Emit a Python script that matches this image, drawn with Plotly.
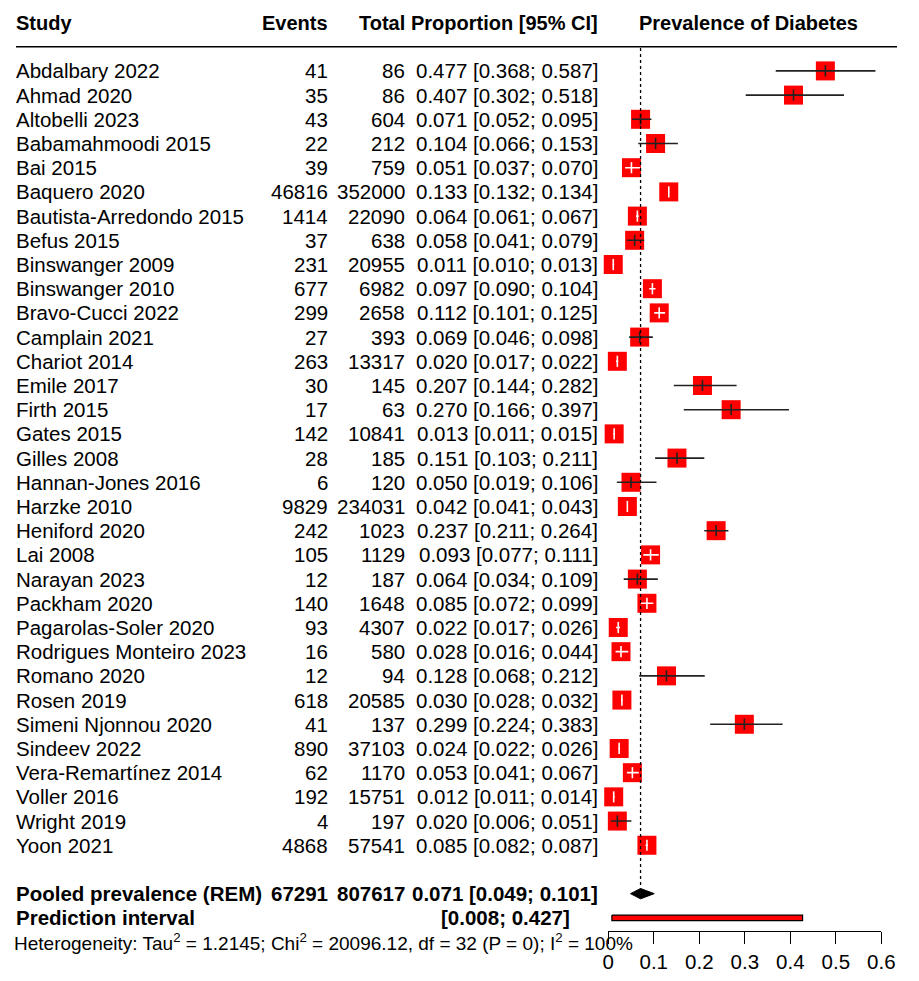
import plotly.graph_objects as go

studies = ["Abdalbary 2022", "Ahmad 2020", "Altobelli 2023", "Babamahmoodi 2015", "Bai 2015",
           "Baquero 2020", "Bautista-Arredondo 2015", "Befus 2015", "Binswanger 2009", "Binswanger 2010",
           "Bravo-Cucci 2022", "Camplain 2021", "Chariot 2014", "Emile 2017", "Firth 2015",
           "Gates 2015", "Gilles 2008", "Hannan-Jones 2016", "Harzke 2010", "Heniford 2020",
           "Lai 2008", "Narayan 2023", "Packham 2020", "Pagarolas-Soler 2020", "Rodrigues Monteiro 2023",
           "Romano 2020", "Rosen 2019", "Simeni Njonnou 2020", "Sindeev 2022", "Vera-Remartínez 2014",
           "Voller 2016", "Wright 2019", "Yoon 2021"]
events = [41, 35, 43, 22, 39, 46816, 1414, 37, 231, 677, 299, 27, 263, 30, 17, 142, 28, 6, 9829, 242,
          105, 12, 140, 93, 16, 12, 618, 41, 890, 62, 192, 4, 4868]
totals = [86, 86, 604, 212, 759, 352000, 22090, 638, 20955, 6982, 2658, 393, 13317, 145, 63, 10841, 185,
          120, 234031, 1023, 1129, 187, 1648, 4307, 580, 94, 20585, 137, 37103, 1170, 15751, 197, 57541]
prop = [0.477, 0.407, 0.071, 0.104, 0.051, 0.133, 0.064, 0.058, 0.011, 0.097, 0.112, 0.069, 0.020, 0.207,
        0.270, 0.013, 0.151, 0.050, 0.042, 0.237, 0.093, 0.064, 0.085, 0.022, 0.028, 0.128, 0.030, 0.299,
        0.024, 0.053, 0.012, 0.020, 0.085]
lower = [0.368, 0.302, 0.052, 0.066, 0.037, 0.132, 0.061, 0.041, 0.010, 0.090, 0.101, 0.046, 0.017, 0.144,
         0.166, 0.011, 0.103, 0.019, 0.041, 0.211, 0.077, 0.034, 0.072, 0.017, 0.016, 0.068, 0.028, 0.224,
         0.022, 0.041, 0.011, 0.006, 0.082]
upper = [0.587, 0.518, 0.095, 0.153, 0.070, 0.134, 0.067, 0.079, 0.013, 0.104, 0.125, 0.098, 0.022, 0.282,
         0.397, 0.015, 0.211, 0.106, 0.043, 0.264, 0.111, 0.109, 0.099, 0.026, 0.044, 0.212, 0.032, 0.383,
         0.026, 0.067, 0.014, 0.051, 0.087]

pooled_events = 67291
pooled_total = 807617
pooled_est, pooled_lo, pooled_hi = 0.071, 0.049, 0.101
pred_lo, pred_hi = 0.008, 0.427
het_text = ("Heterogeneity: Tau<sup>2</sup> = 1.2145; Chi<sup>2</sup> = 20096.12, df = 32 "
            "(P = 0); I<sup>2</sup> = 100%")
x_ticks = [0, 0.1, 0.2, 0.3, 0.4, 0.5, 0.6]
x_ticktext = ["0", "0.1", "0.2", "0.3", "0.4", "0.5", "0.6"]

# ---- layout geometry (target pixel coordinates in the 919x981 window) ----
VIEW_W, VIEW_H = 919, 981
OFF_X, OFF_Y = 8, 8           # default page margin around the plot div
W, H = VIEW_W - 2 * OFF_X, VIEW_H - 2 * OFF_Y
FONT = "Liberation Sans, Arial, sans-serif"
FS = 20.5
FS_BOLD = 20
FS_HET = 19
row0_px, row_h = 71.3, 24.35
x0_px, x1_px = 615.7, 895.0   # keeps the last tick label inside the figure
xmin, xmax = 0.0, 0.6
px_per_unit = (x1_px - x0_px) / (xmax - xmin)
sq = 19
half_sq = (sq / 2) / px_per_unit


def px(xp):
    return (xp - OFF_X) / W


n = len(studies)
rows = list(range(n))
pooled_row = n + 1
pred_row = n + 2
het_row = n + 3
header_row = -2
line_row = -1.0

fig = go.Figure()

# squares
fig.add_trace(go.Scatter(x=prop, y=rows, mode="markers",
                         marker=dict(symbol="square", size=sq, color="#FF0000",
                                     line=dict(width=0)),
                         cliponaxis=False, hoverinfo="skip"))

# CI lines (black if extending beyond square, white if inside)
bx, by, wx, wy = [], [], [], []
tbx, tby, twx, twy = [], [], [], []
for r, p, lo, hi in zip(rows, prop, lower, upper):
    inside = (lo >= p - half_sq) and (hi <= p + half_sq)
    if inside:
        wx += [lo, hi, None]; wy += [r, r, None]
        twx.append(p); twy.append(r)
    else:
        bx += [lo, hi, None]; by += [r, r, None]
        tbx.append(p); tby.append(r)

fig.add_trace(go.Scatter(x=bx, y=by, mode="lines", line=dict(color="#222222", width=1.6),
                         cliponaxis=False, hoverinfo="skip"))
fig.add_trace(go.Scatter(x=wx, y=wy, mode="lines", line=dict(color="white", width=1.6),
                         cliponaxis=False, hoverinfo="skip"))
fig.add_trace(go.Scatter(x=tbx, y=tby, mode="markers",
                         marker=dict(symbol="line-ns", size=8, line=dict(color="#222222", width=1.6)),
                         cliponaxis=False, hoverinfo="skip"))
fig.add_trace(go.Scatter(x=twx, y=twy, mode="markers",
                         marker=dict(symbol="line-ns", size=8, line=dict(color="white", width=1.6)),
                         cliponaxis=False, hoverinfo="skip"))

# diamond
dh = 5.2 / row_h
fig.add_trace(go.Scatter(x=[pooled_lo, pooled_est, pooled_hi, pooled_est, pooled_lo],
                         y=[pooled_row, pooled_row - dh, pooled_row, pooled_row + dh, pooled_row],
                         mode="lines", fill="toself", fillcolor="black",
                         line=dict(color="black", width=1), hoverinfo="skip"))

# prediction interval bar
ph = 2.8 / row_h
fig.add_trace(go.Scatter(x=[pred_lo, pred_hi, pred_hi, pred_lo, pred_lo],
                         y=[pred_row - ph, pred_row - ph, pred_row + ph, pred_row + ph, pred_row - ph],
                         mode="lines", fill="toself", fillcolor="#FF0000",
                         line=dict(color="black", width=1.2), hoverinfo="skip"))

shapes = [
    dict(type="line", xref="x", yref="y", x0=pooled_est, x1=pooled_est,
         y0=line_row + 0.05, y1=pooled_row - dh, line=dict(color="black", width=1.3, dash="dot")),
    dict(type="line", xref="paper", yref="y", x0=px(10), x1=1, y0=line_row, y1=line_row,
         line=dict(color="black", width=1.6)),
]

ann = []


def txt(xpx, y, s, anchor, bold=False, size=None):
    if size is None:
        size = FS_BOLD if bold else FS
    ann.append(dict(xref="paper", yref="y", x=px(xpx), y=y, text=(f"<b>{s}</b>" if bold else s),
                    showarrow=False, xanchor=anchor, yanchor="middle", borderpad=0, borderwidth=0,
                    font=dict(family=FONT, size=size, color="black")))


col_study, col_ev, col_tot, col_ci = 10, 329, 408, 605
txt(col_study, header_row, "Study", "left", True)
txt(col_ev, header_row, "Events", "right", True)
txt(col_tot, header_row, "Total", "right", True)
txt(col_ci, header_row, "Proportion [95% CI]", "right", True)
txt(759, header_row, "Prevalence of Diabetes", "center", True)

for r, s, e, t, p, lo, hi in zip(rows, studies, events, totals, prop, lower, upper):
    txt(col_study, r, s, "left")
    txt(col_ev, r, str(e), "right")
    txt(col_tot, r, str(t), "right")
    txt(col_ci, r, f"{p:.3f} [{lo:.3f}; {hi:.3f}]", "right")

txt(col_study, pooled_row, "Pooled prevalence (REM)", "left", True, FS)
txt(col_ev, pooled_row, str(pooled_events), "right", True, FS)
txt(col_tot, pooled_row, str(pooled_total), "right", True, FS)
txt(col_ci, pooled_row, f"{pooled_est:.3f} [{pooled_lo:.3f}; {pooled_hi:.3f}]", "right", True, FS)
txt(col_study, pred_row, "Prediction interval", "left", True, FS)
txt(577, pred_row, f"[{pred_lo:.3f}; {pred_hi:.3f}]", "right", True, FS)
txt(8, het_row, het_text, "left", size=FS_HET)

y_top = (OFF_Y - row0_px) / row_h
y_bot = (OFF_Y + H - row0_px) / row_h

fig.update_layout(
    width=W, height=H, margin=dict(l=0, r=0, t=0, b=0),
    paper_bgcolor="white", plot_bgcolor="white", showlegend=False,
    font=dict(family=FONT, size=FS, color="black"),
    shapes=shapes, annotations=ann,
    xaxis=dict(domain=[px(x0_px), px(x1_px)], range=[xmin, xmax], anchor="free",
               position=1 - (937 - OFF_Y) / H, showline=True, linecolor="black", linewidth=1.2,
               ticks="outside", ticklen=12, tickwidth=1.2, tickcolor="black",
               tickvals=x_ticks, ticktext=x_ticktext, showgrid=False, zeroline=False,
               tickfont=dict(family=FONT, size=FS, color="black")),
    yaxis=dict(domain=[0, 1], range=[y_bot, y_top], visible=False, showgrid=False, zeroline=False),
)

fig.write_html("out.html")
